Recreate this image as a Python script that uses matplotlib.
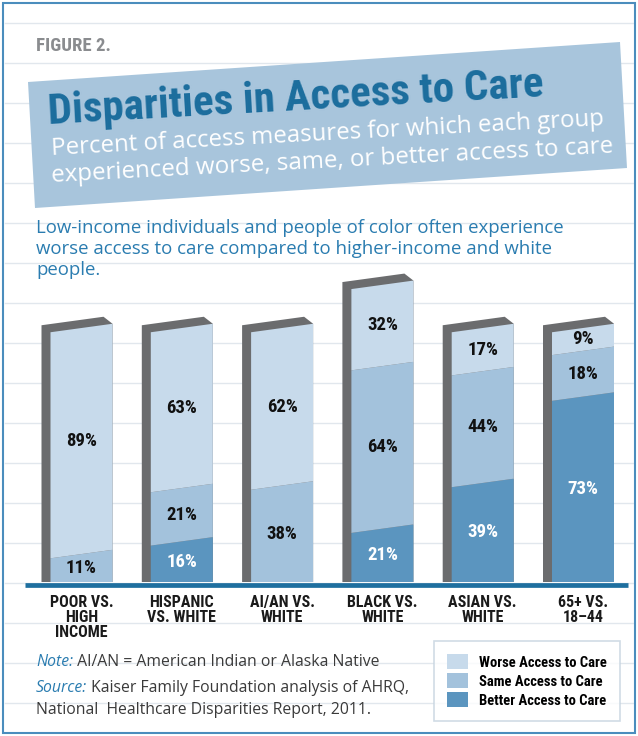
import matplotlib.pyplot as plt
from matplotlib.patches import Polygon, Rectangle, Patch

categories = ["POOR VS.\nHIGH\nINCOME", "HISPANIC\nVS. WHITE", "AI/AN VS.\nWHITE",
              "BLACK VS.\nWHITE", "ASIAN VS.\nWHITE", "65+ VS.\n18\u201344"]
better = [0, 16, 0, 21, 39, 73]
same = [11, 21, 38, 64, 44, 18]
worse = [89, 63, 62, 32, 17, 9]
series_names = ["Worse Access to Care", "Same Access to Care", "Better Access to Care"]

c_worse = "#c7daeb"
c_same = "#a3c2dc"
c_better = "#5b95bf"
c_side = "#6b6c6e"
blue_txt = "#2a7cb0"
narrow = ["Roboto Condensed", "Liberation Sans Narrow", "DejaVu Sans"]
body = ["Open Sans", "DejaVu Sans"]

fig = plt.figure(figsize=(6.38, 7.36), dpi=100)

# background layer in pixel coordinates
bg = fig.add_axes([0, 0, 1, 1], zorder=0)
bg.set_xlim(0, 638)
bg.set_ylim(736, 0)
bg.axis("off")

for y in range(22, 736, 40):
    bg.plot([5, 633], [y + 0.5, y + 0.5], color="#e1e7ed", lw=1, zorder=0)
bg.add_patch(Rectangle((3, 3), 632, 730, fill=False, ec="#4b8dbd", lw=1.5, zorder=5))

bg.text(36, 51, "FIGURE 2.", fontsize=13.5, fontweight="bold", color="#8a8c8f",
        family=narrow, fontstretch="condensed")

bg.add_patch(Polygon([(28, 82), (620, 42), (627, 168), (35, 208)], closed=True,
                     fc="#a8c5dc", ec="none", zorder=2))
bg.text(48, 124, "Disparities in Access to Care", rotation=3.2, rotation_mode="anchor",
        fontsize=31, fontweight="bold", color="#1b6d9d", family=narrow,
        fontstretch="condensed", zorder=3)
bg.text(52, 155, "Percent of access measures for which each group", rotation=3.1,
        rotation_mode="anchor", fontsize=17.3, color="white", family=body, zorder=3)
bg.text(52, 182, "experienced worse, same, or better access to care", rotation=3.0,
        rotation_mode="anchor", fontsize=17.4, color="white", family=body, zorder=3)

bg.text(36, 219, "Low-income individuals and people of color often experience\n"
        "worse access to care compared to higher-income and white\npeople.",
        fontsize=13.4, color=blue_txt, family=body, va="top", linespacing=1.22)

t1 = bg.text(36, 666, "Note:", fontsize=11.3, style="italic", color=blue_txt, family=body)
bg.annotate(" AI/AN = American Indian or Alaska Native", xy=(1, 0), xycoords=t1,
            fontsize=11.3, color="#3a3a3a", family=body, va="bottom")
t2 = bg.text(36, 692, "Source:", fontsize=11.3, style="italic", color=blue_txt, family=body)
bg.annotate(" Kaiser Family Foundation analysis of AHRQ,", xy=(1, 0), xycoords=t2,
            fontsize=11.3, color="#3a3a3a", family=body, va="bottom")
bg.text(36, 714, "National  Healthcare Disparities Report, 2011.", fontsize=11.3,
        color="#3a3a3a", family=body)

# bar layer
ax = fig.add_axes([20 / 638, 144 / 736, 610 / 638, 322 / 736], zorder=1)
ax.patch.set_alpha(0)
px_x = 100.3
px_y = 2.54
ax.set_xlim(-61.5 / px_x, 548.5 / px_x)
ax.set_ylim(-10 / px_y, 312 / px_y)
for s in ax.spines.values():
    s.set_visible(False)

w = 62 / px_x
dx = 9 / px_x
dy = 7 / px_y
skew = 8.5 / px_y


def edge(v):
    if v == 0:
        return 0, 0
    return v - skew / 2, v + skew / 2


for i in range(len(categories)):
    L, R = i - w / 2, i + w / 2
    segs = [(better[i], c_better, "white"), (same[i], c_same, "#111111"), (worse[i], c_worse, "#111111")]
    total = sum(v for v, _, _ in segs)
    tl, tr = edge(total)
    ax.add_patch(Polygon([(L - dx, 0), (L - dx, tl + dy), (R - dx, tr + dy), (R, tr), (R, 0)],
                         closed=True, fc=c_side, ec="none", zorder=2))
    cum = 0
    for v, col, tc in segs:
        if v == 0:
            continue
        b0, b1 = edge(cum)
        t0, t1_ = edge(cum + v)
        ax.add_patch(Polygon([(L, b0), (R, b1), (R, t1_), (L, t0)], closed=True,
                             fc=col, ec="none", zorder=3))
        ax.text(i, cum + v / 2, f"{v}%", ha="center", va="center", fontsize=13.5,
                fontweight="bold", color=tc, family=narrow, fontstretch="condensed", zorder=4)
        cum += v

ax.plot([-56.5 / px_x, 546.5 / px_x], [-1, -1], color="#1e6f9f", lw=3.4,
        solid_capstyle="butt", zorder=5, clip_on=False)

ax.set_yticks([])
ax.set_xticks(range(len(categories)))
ax.set_xticklabels(categories, fontsize=11.5, fontweight="bold", family=narrow,
                   fontstretch="condensed", color="#1a1a1a", linespacing=1.0)
ax.tick_params(axis="x", length=0, pad=2)

handles = [Patch(fc=c_worse, ec="none"), Patch(fc=c_same, ec="none"), Patch(fc=c_better, ec="none")]
leg = fig.legend(handles, series_names, loc="upper left",
                 bbox_to_anchor=(434 / 638, 1 - 641 / 736), borderaxespad=0,
                 prop={"family": narrow, "weight": "bold", "size": 10.5, "stretch": "condensed"},
                 frameon=True, fancybox=False, edgecolor="#c5d3df",
                 handlelength=1.4, handleheight=1.2, handletextpad=0.8,
                 labelspacing=0.25, borderpad=0.9)
leg.get_frame().set_linewidth(1.2)

fig.savefig("out.png", dpi=100, facecolor="white")
plt.close(fig)
